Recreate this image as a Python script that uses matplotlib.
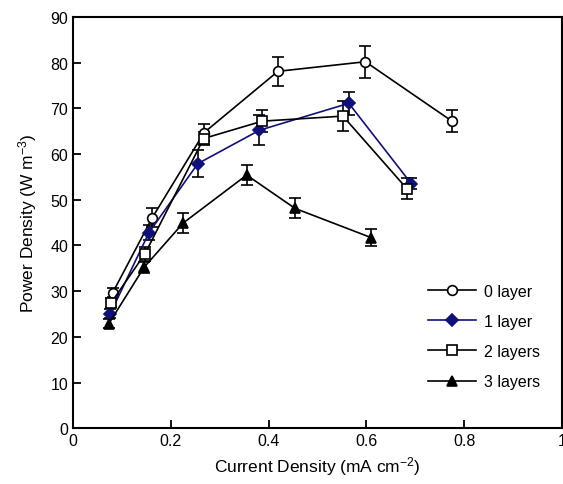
import matplotlib
matplotlib.use('Agg')
import matplotlib.pyplot as plt
import numpy as np

plt.rcParams['font.family'] = ['Liberation Sans', 'DejaVu Sans']
plt.rcParams['mathtext.fontset'] = 'custom'
plt.rcParams['mathtext.rm'] = 'Liberation Sans'
plt.rcParams['mathtext.it'] = 'Liberation Sans'

# data
x0 = [0.081, 0.162, 0.268, 0.419, 0.598, 0.775]
y0 = [29.7, 46.1, 64.7, 78.1, 80.2, 67.2]
e0 = [1.0, 2.0, 1.8, 3.2, 3.5, 2.4]

x1 = [0.076, 0.155, 0.255, 0.381, 0.564, 0.692]
y1 = [25.1, 42.8, 57.9, 65.2, 71.1, 53.5]
e1 = [1.0, 1.7, 2.9, 3.3, 2.5, 1.2]

x2 = [0.078, 0.147, 0.267, 0.387, 0.552, 0.683]
y2 = [27.5, 38.2, 63.4, 67.2, 68.3, 52.4]
e2 = [1.0, 1.5, 1.5, 2.4, 3.2, 2.3]

x3 = [0.073, 0.145, 0.225, 0.355, 0.454, 0.610]
y3 = [22.9, 35.2, 44.9, 55.4, 48.1, 41.7]
e3 = [1.0, 1.2, 2.1, 2.2, 2.2, 1.8]

labels = ['0 layer', '1 layer', '2 layers', '3 layers']

fig = plt.figure(figsize=(5.63, 4.85), dpi=100)
ax = fig.add_axes([0.130, 0.115, 0.868, 0.848])

navy = '#10107a'
common = dict(capsize=4, elinewidth=1.2, capthick=1.2, ecolor='k', lw=1.2, ms=7, mec='k', mew=1.2)
ax.errorbar(x0, y0, yerr=e0, color='k', marker='o', mfc='white', label=labels[0], **common)
ax.errorbar(x1, y1, yerr=e1, color=navy, marker='D', mfc=navy, label=labels[1],
            **{**common, 'mec': navy, 'ms': 6})
ax.errorbar(x2, y2, yerr=e2, color='k', marker='s', mfc='white', label=labels[2], **common)
ax.errorbar(x3, y3, yerr=e3, color='k', marker='^', mfc='k', label=labels[3], **common)

ax.set_xlim(0, 1)
ax.set_ylim(0, 90)
ax.set_xticks([0, 0.2, 0.4, 0.6, 0.8, 1])
ax.set_xticklabels(['0', '0.2', '0.4', '0.6', '0.8', '1'])
ax.set_yticks(range(0, 91, 10))
ax.tick_params(direction='in', length=6, width=1.3, labelsize=11.5)
for s in ax.spines.values():
    s.set_linewidth(1.5)

ax.set_xlabel('Current Density (mA cm$^{-2}$)', fontsize=12.5, labelpad=4)
ax.set_ylabel('Power Density (W m$^{-3}$)', fontsize=12.5, labelpad=8)

h, l = ax.get_legend_handles_labels()
h = [hh[0] for hh in h]
ax.legend(h, l, loc='lower right', bbox_to_anchor=(0.985, 0.06), frameon=False,
          fontsize=11.5, handlelength=3.0, labelspacing=0.95, handletextpad=0.5)

fig.savefig('out.png', dpi=100)
